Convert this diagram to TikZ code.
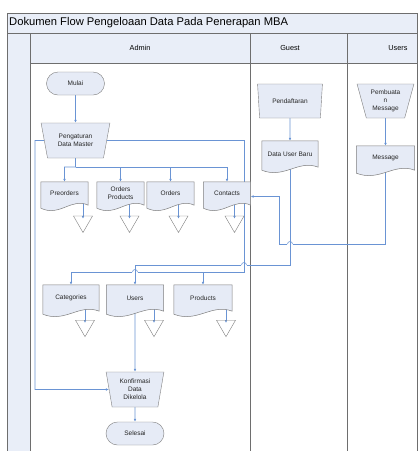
\documentclass[tikz,border=0pt]{standalone}
\usepackage{fontspec}
\setmainfont{Liberation Sans}
\usetikzlibrary{shapes.geometric,calc,arrows.meta}
\pgfdeclarelayer{back}
\pgfdeclarelayer{bg}
\pgfsetlayers{back,bg,main}
\definecolor{lanefill}{HTML}{E9EEF8}
\definecolor{shapefill}{HTML}{E6EBF6}
\definecolor{shapeline}{HTML}{7F7F7F}
\definecolor{connc}{HTML}{6A94D4}
\definecolor{laneline}{HTML}{6E6E6E}
\newcommand\docoutline[1]{%
  \draw[docline] (#1.north west) -- (#1.north east) -- (#1.south east)
    .. controls ($(#1.south east)!0.35!(#1.south west)+(0,-8)$) and ($(#1.south east)!0.6!(#1.south west)+(0,12)$)
    .. ($(#1.south west)+(0,3)$) -- cycle;}
\newcommand\linehop[1]{%
  \fill[white] ($(#1)+(-2.6,-0.5)$) rectangle ($(#1)+(2.6,0.5)$);
  \draw[conn] ($(#1)+(0,-3)$) -- ($(#1)+(0,3)$);
  \draw[conn] ($(#1)+(-2.5,0)$) arc[start angle=180, end angle=360, radius=2.5];}
\begin{document}
\begin{tikzpicture}[x=1pt,y=-1pt,
  txt/.style={font=\fontsize{6.5}{8}\selectfont, align=center, text=black!85},
  term/.style={txt, draw=shapeline, fill=shapefill, rounded corners=11.5pt, minimum width=58pt, minimum height=23pt, inner sep=0pt},
  manop/.style={txt, trapezium, draw=shapeline, fill=shapefill, trapezium stretches=true, inner sep=0pt},
  docn/.style={txt, inner sep=0pt, minimum height=23pt},
  docline/.style={draw=shapeline, fill=shapefill, line width=0.5pt},
  store/.style={regular polygon, regular polygon sides=3, shape border rotate=180, draw=shapeline, minimum size=22pt, inner sep=0pt},
  conn/.style={draw=connc, line width=0.55pt},
  arr/.style={conn, -{Latex[length=3pt,width=2.6pt]}},
  lanetxt/.style={font=\fontsize{7.3}{9}\selectfont},
]
\useasboundingbox (0,0) rectangle (418,451);
\begin{pgfonlayer}{back}
  \fill[white] (0,0) rectangle (418,451);
  \draw[laneline, fill=lanefill] (7,13) rectangle (417,33);
  \node[anchor=west, font=\fontsize{11.2}{13}\selectfont, inner sep=0pt] (title) at (9,23) {Dokumen Flow Pengeloaan Data Pada Penerapan MBA};
  \draw[laneline, fill=lanefill] (30,33) rectangle (417,63);
  \draw[laneline, fill=lanefill] (7,33) rectangle (30,452);
  \draw[laneline] (250,33) -- (250,452);
  \draw[laneline] (347,33) -- (347,452);
  \draw[laneline] (417,33) -- (417,452);
  \node[lanetxt] (hadmin) at (140,48) {Admin};
  \node[lanetxt] (hguest) at (290,48) {Guest};
  \node[lanetxt] (husers) at (398,48) {Users};
\end{pgfonlayer}

% Admin lane
\node[term] (mulai) at (75.5,83.5) {Mulai};
\node[manop, minimum width=69pt, minimum height=35pt, trapezium left angle=108, trapezium right angle=108] (peng) at (75.5,140.5) {Pengaturan\\Data Master};

\node[docn, minimum width=47pt] (pre) at (64.5,193.5) {};
\docoutline{pre}
\node[txt] (pret) at (pre) {Preorders};
\node[docn, minimum width=47pt] (ordp) at (120.5,193.5) {};
\docoutline{ordp}
\node[txt] (ordpt) at (ordp) {Orders\\Products};
\node[docn, minimum width=47pt] (ord) at (170.5,193.5) {};
\docoutline{ord}
\node[txt] (ordt) at (ord) {Orders};
\node[docn, minimum width=47pt] (cont) at (227,193.5) {};
\docoutline{cont}
\node[txt] (contt) at (cont) {Contacts};

\node[store] (t1) at (83,221.5) {};
\node[store] (t2) at (129.5,221.5) {};
\node[store] (t3) at (178.5,221.5) {};
\node[store] (t4) at (234.5,221.5) {};

\node[docn, minimum width=56pt, minimum height=26pt] (cat) at (71,298) {};
\docoutline{cat}
\node[txt] (catt) at (cat) {Categories};
\node[docn, minimum width=57pt, minimum height=26pt] (users) at (135,298) {};
\docoutline{users}
\node[txt] (userst) at (users) {Users};
\node[docn, minimum width=58pt, minimum height=26pt] (prod) at (203,298) {};
\docoutline{prod}
\node[txt] (prodt) at (prod) {Products};

\node[store] (t5) at (85,325.7) {};
\node[store] (t6) at (154,325.7) {};
\node[store] (t7) at (226,325.7) {};

\node[manop, minimum width=58pt, minimum height=35pt, trapezium left angle=101, trapezium right angle=101] (konf) at (135,389.5) {Konfirmasi\\Data\\Dikelola};
\node[term] (sel) at (135,433.5) {Selesai};

% Guest lane
\node[manop, minimum width=65pt, minimum height=34pt, trapezium left angle=104, trapezium right angle=104] (pend) at (290,101) {Pendaftaran};
\node[docn, minimum width=56pt, minimum height=26pt] (dub) at (290,154) {};
\docoutline{dub}
\node[txt] (dubt) at (dub) {Data User Baru};

% Users lane
\node[manop, minimum width=57pt, minimum height=34pt, trapezium left angle=108, trapezium right angle=108] (pemb) at (385.5,101) {Pembuata\\n\\Message};
\node[docn, minimum width=58pt, minimum height=24pt] (msg) at (385.5,158) {};
\docoutline{msg}
\node[txt] (msgt) at (msg) {Message};

\begin{pgfonlayer}{bg}
  \draw[arr] (mulai) -- (peng);
  \coordinate (bus) at (75.5,167);
  \draw[arr] (peng.south) -- (bus) -| (pre.north);
  \draw[arr] (bus) -| (ordp.north);
  \draw[arr] (bus) -| (ord.north);
  \draw[arr] (bus) -| (cont.north);
  \draw[arr] (t1 |- pre) -- ($(t1.north)+(0,3)$);
  \draw[arr] (t2 |- ordp) -- ($(t2.north)+(0,3)$);
  \draw[arr] (t3 |- ord) -- ($(t3.north)+(0,3)$);
  \draw[arr] (t4 |- cont) -- ($(t4.north)+(0,3)$);
  \draw[arr] (t5 |- cat) -- ($(t5.north)+(0,3)$);
  \draw[arr] (t6 |- users) -- ($(t6.north)+(0,3)$);
  \draw[arr] (t7 |- prod) -- ($(t7.north)+(0,3)$);
  \draw[arr] (pend) -- (dub);
  \draw[arr] (pemb) -- (msg);
  \coordinate (m1) at (279,244);
  \draw[arr] (msg) |- (m1) |- ($(cont.east)+(0,3)$);
  \coordinate (d1) at (135,265);
  \draw[arr] (dub) |- (d1) -- (users.north);
  \coordinate (r1) at (244,272);
  \draw[arr] (peng.east) -| (r1) -| (cat.north);
  \draw[arr] (prod.north |- r1) -- (prod.north);
  \coordinate (l1) at (35,140.5);
  \draw[arr] (peng.west) -- (l1) |- (konf.west);
  \draw[arr] (users) -- (konf);
  \draw[arr] (konf) -- (sel);
  \coordinate (h1) at (290,244);
  \coordinate (h2) at (244,265);
  \coordinate (h3) at (135,272);
  \linehop{h1}
  \linehop{h2}
  \linehop{h3}
\end{pgfonlayer}
\end{tikzpicture}
\end{document}
